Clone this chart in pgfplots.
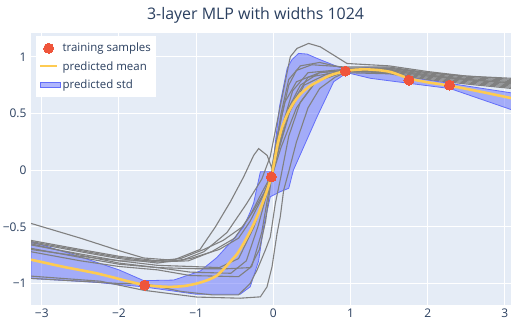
\documentclass[border=0pt]{standalone}
\usepackage{pgfplots}
\pgfplotsset{compat=1.18}
\usepackage{fontspec}
\setmainfont{Open Sans}
\definecolor{bgc}{HTML}{E5ECF6}
\definecolor{txt}{HTML}{2A3F5F}
\definecolor{pred}{HTML}{EF553B}
\definecolor{pyel}{HTML}{FECB52}
\definecolor{pblue}{HTML}{636EFA}
\definecolor{sgray}{HTML}{808080}
\pgfplotsset{sg/.style={forget plot, color=sgray, line width=1.1bp, no marks}}
\begin{document}
\begin{tikzpicture}[x=1bp,y=1bp]
\useasboundingbox (0,0) rectangle (511,321);
\node[font=\fontsize{16}{19}\selectfont, text=txt] at (255.5,306) {3-layer MLP with widths 1024};
\begin{axis}[at={(31bp,16bp)}, anchor=south west, scale only axis,
  width=480bp, height=272bp,
  xmin=-3.14, xmax=3.08, ymin=-1.19, ymax=1.21,
  axis background/.style={fill=bgc},
  axis line style={draw=none},
  grid=major, grid style={white, line width=1bp},
  major tick length=0pt,
  xtick={-3,-2,-1,0,1,2,3}, xticklabels={−3,−2,−1,0,1,2,3},
  ytick={-1,-0.5,0,0.5,1}, yticklabels={−1,−0.5,0,0.5,1},
  ticklabel style={font=\fontsize{12}{14}\selectfont, text=txt},
  xticklabel style={yshift=0bp},
  yticklabel style={xshift=-1bp},
  legend cell align=left,
  legend style={at={(axis description cs:0.0104,0.989)}, anchor=north west,
    fill=white, draw=none, font=\fontsize{11.5}{13.5}\selectfont, text=txt,
    inner xsep=3bp, inner ysep=5bp, row sep=4bp,
    /tikz/every even column/.append style={column sep=3bp}},
]
% std band
\addplot[forget plot, draw=pblue, line width=0.8bp, fill=pblue, fill opacity=0.5, no marks] coordinates {
(-3.14,-0.63)(-2.5,-0.765)(-2.0,-0.88)(-1.68,-0.975)(-1.29,-0.97)(-0.946,-0.89)(-0.73,-0.77)(-0.557,-0.64)(-0.385,-0.5)(-0.3,-0.37)(-0.255,-0.29)(-0.168,-0.015)(-0.017,-0.015)(0.08,0.56)(0.18,0.9)(0.242,0.975)(0.328,1.03)(0.437,1.024)(0.566,0.986)(0.782,0.927)(0.93,0.89)(1.2,0.905)(1.47,0.9)(1.77,0.82)(2.29,0.765)(3.1,0.68)
(3.1,0.53)(2.29,0.72)(1.77,0.765)(1.26,0.81)(0.955,0.86)(0.782,0.78)(0.566,0.47)(0.26,0.0)(0.2,-0.16)(0.09,-0.19)(-0.039,-0.235)(-0.126,-0.5)(-0.19,-0.8)(-0.3,-1.03)(-0.43,-1.095)(-1.0,-1.095)(-1.68,-1.03)(-2.3,-0.99)(-3.14,-0.956)
} -- cycle;
% sample lines
\addplot[sg] coordinates {(-3.14,-0.47)(-2.5,-0.6)(-2.0,-0.71)(-1.68,-0.775)(-1.3,-0.795)(-0.95,-0.7)(-0.75,-0.5)(-0.557,-0.28)(-0.385,-0.06)(-0.255,0.13)(-0.19,0.19)(-0.08,0.13)(-0.02,0.02)(0.05,0.3)(0.15,0.6)(0.3,0.78)(0.6,0.86)(0.93,0.88)(1.5,0.88)(2.0,0.83)(2.5,0.8)(3.1,0.77)};
\addplot[sg] coordinates {(-3.14,-0.62)(-2.5,-0.7)(-2.0,-0.76)(-1.5,-0.8)(-1.2,-0.8)(-0.9,-0.72)(-0.6,-0.55)(-0.35,-0.3)(-0.15,-0.08)(-0.04,0.12)(0.1,0.6)(0.22,1.0)(0.307,1.074)(0.457,1.118)(0.609,1.088)(0.955,0.941)(1.5,0.92)(2.0,0.87)(2.5,0.83)(3.1,0.8)};
\addplot[sg] coordinates {(-3.14,-0.63)(-2.5,-0.71)(-2.0,-0.77)(-1.5,-0.81)(-1.1,-0.8)(-0.8,-0.72)(-0.5,-0.6)(-0.3,-0.4)(-0.15,-0.2)(-0.03,-0.05)(0.1,0.45)(0.2,0.75)(0.3,0.88)(0.5,0.93)(0.93,0.91)(1.5,0.91)(2.0,0.86)(2.5,0.82)(3.1,0.79)};
\addplot[sg] coordinates {(-3.14,-0.64)(-2.5,-0.72)(-2.0,-0.78)(-1.5,-0.82)(-1.075,-0.78)(-0.7,-0.7)(-0.45,-0.6)(-0.3,-0.45)(-0.15,-0.25)(-0.03,-0.06)(0.1,0.35)(0.25,0.7)(0.45,0.86)(0.93,0.89)(1.5,0.9)(2.0,0.85)(2.5,0.81)(3.1,0.78)};
\addplot[sg] coordinates {(-3.14,-0.66)(-2.5,-0.74)(-2.0,-0.8)(-1.5,-0.84)(-1.075,-0.85)(-0.7,-0.86)(-0.45,-0.78)(-0.25,-0.5)(-0.1,-0.2)(-0.03,-0.07)(0.1,0.25)(0.25,0.6)(0.45,0.82)(0.93,0.875)(1.5,0.89)(2.0,0.84)(2.5,0.8)(3.1,0.76)};
\addplot[sg] coordinates {(-3.14,-0.69)(-2.5,-0.77)(-2.0,-0.83)(-1.5,-0.86)(-1.075,-0.9)(-0.55,-0.91)(-0.35,-0.8)(-0.2,-0.5)(-0.1,-0.25)(-0.03,-0.08)(0.1,0.2)(0.3,0.55)(0.55,0.78)(0.93,0.87)(1.5,0.88)(2.0,0.83)(2.5,0.79)(3.1,0.75)};
\addplot[sg] coordinates {(-3.14,-0.72)(-2.5,-0.8)(-2.0,-0.85)(-1.5,-0.88)(-1.075,-0.93)(-0.45,-0.94)(-0.28,-0.85)(-0.15,-0.55)(-0.05,-0.15)(0.0,0.0)(0.1,0.3)(0.2,0.55)(0.35,0.75)(0.6,0.86)(0.93,0.88)(1.5,0.89)(2.0,0.84)(2.5,0.8)(3.1,0.77)};
\addplot[sg] coordinates {(-3.14,-0.935)(-2.24,-0.98)(-1.68,-1.06)(-0.99,-1.12)(-0.43,-1.13)(-0.168,-1.118)(-0.082,-1.03)(-0.017,-0.853)(0.048,-0.56)(0.09,-0.412)(0.134,-0.177)(0.199,-0.015)(0.3,0.25)(0.45,0.55)(0.6,0.72)(0.8,0.82)(0.93,0.86)(1.5,0.85)(2.0,0.8)(2.5,0.76)(3.1,0.72)};
\addplot[sg] coordinates {(-3.14,-0.955)(-2.5,-0.98)(-2.0,-1.0)(-1.68,-1.0)(-1.2,-1.07)(-0.8,-1.1)(-0.45,-1.1)(-0.3,-1.0)(-0.21,-0.88)(-0.1,-0.7)(-0.039,-0.59)(0.026,-0.294)(0.1,-0.05)(0.2,0.3)(0.35,0.6)(0.55,0.78)(0.93,0.87)(1.5,0.86)(2.0,0.81)(2.5,0.77)(3.1,0.73)};
\addplot[sg] coordinates {(-3.14,-0.65)(-2.5,-0.75)(-2.0,-0.82)(-1.5,-0.86)(-1.0,-0.87)(-0.6,-0.87)(-0.3,-0.86)(-0.18,-0.7)(-0.1,-0.45)(-0.03,-0.1)(0.05,0.15)(0.2,0.5)(0.4,0.75)(0.7,0.85)(0.93,0.87)(1.5,0.87)(2.0,0.82)(2.5,0.78)(3.1,0.74)};
\addplot[sg] coordinates {(-3.14,-0.7)(-2.5,-0.76)(-2.0,-0.8)(-1.5,-0.8)(-1.2,-0.78)(-0.9,-0.7)(-0.65,-0.62)(-0.4,-0.5)(-0.25,-0.35)(-0.12,-0.2)(-0.03,-0.06)(0.1,0.5)(0.2,0.8)(0.35,0.92)(0.6,0.95)(0.93,0.9)(1.5,0.9)(2.0,0.86)(2.5,0.83)(3.1,0.81)};
% mean
\addplot[forget plot, color=pyel, line width=2.6bp, smooth, tension=0.4, no marks] coordinates {
(-3.14,-0.79)(-2.72,-0.853)(-2.28,-0.912)(-1.85,-0.986)(-1.68,-1.012)(-1.5,-1.025)(-1.33,-1.03)(-1.15,-1.022)(-0.99,-1.0)(-0.85,-0.97)(-0.73,-0.93)(-0.64,-0.87)(-0.56,-0.81)(-0.47,-0.74)(-0.385,-0.647)(-0.3,-0.54)(-0.211,-0.412)(-0.14,-0.29)(-0.082,-0.18)(-0.026,-0.059)(0.02,0.1)(0.06,0.24)(0.11,0.37)(0.18,0.49)(0.26,0.59)(0.35,0.67)(0.47,0.74)(0.6,0.79)(0.75,0.84)(0.933,0.874)(1.07,0.886)(1.21,0.889)(1.37,0.882)(1.52,0.866)(1.65,0.835)(1.77,0.806)(2.0,0.775)(2.29,0.745)(2.7,0.69)(3.1,0.633)};
% training samples
\addplot[forget plot, only marks, mark=*, mark size=5bp, color=pred, mark options={draw=pred, fill=pred, line width=0pt}] coordinates {
(-1.667,-1.015)(-0.026,-0.059)(0.933,0.874)(1.757,0.794)(2.284,0.75)};
% legend
\addlegendimage{only marks, mark=*, mark size=5bp, color=pred, mark options={draw=pred, fill=pred, line width=0pt}}
\addlegendentry{training samples}
\addlegendimage{color=pyel, line width=2bp, no marks}
\addlegendentry{predicted mean}
\addlegendimage{legend image code/.code={\draw[pblue, line width=0.8bp, fill=pblue, fill opacity=0.5] (0bp,-2.5bp) rectangle (20bp,2.5bp);}}
\addlegendentry{predicted std}
\end{axis}
\end{tikzpicture}
\end{document}
